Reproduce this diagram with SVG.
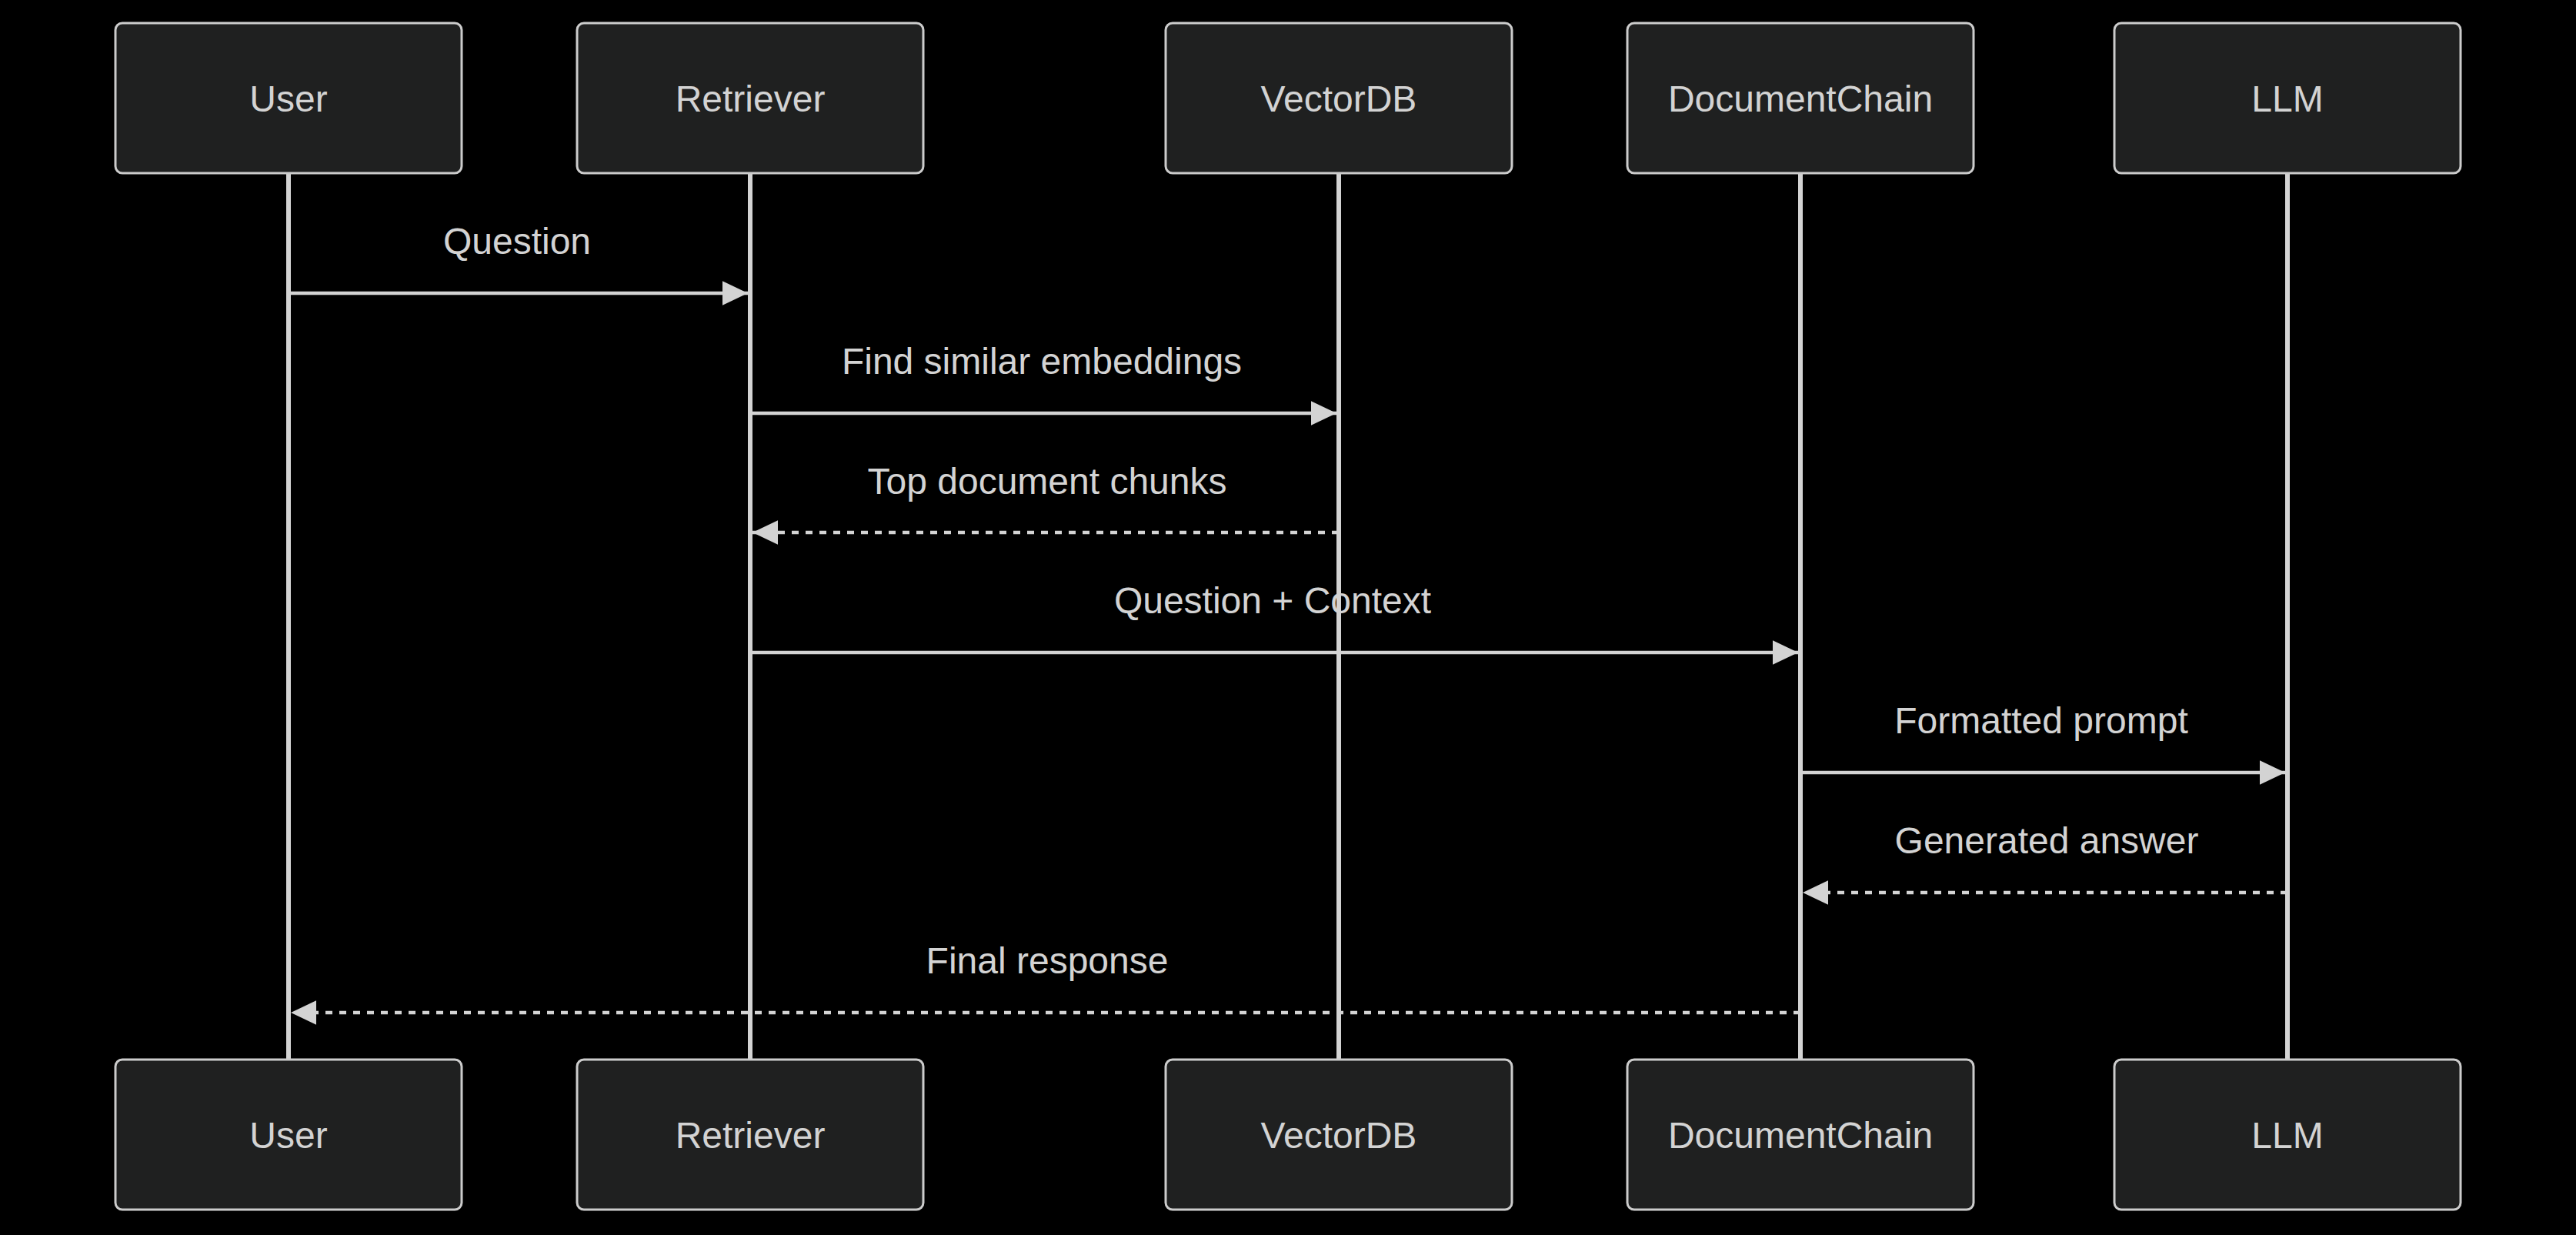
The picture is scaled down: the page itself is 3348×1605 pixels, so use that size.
<svg xmlns="http://www.w3.org/2000/svg" width="3348" height="1605" viewBox="0 0 3348 1605">
<style>
.actor{fill:#1f2020;stroke:#cccccc;stroke-width:3}
.atext{font-family:"Liberation Sans",Arial,sans-serif;font-size:48px;fill:#d3d3d3;text-anchor:middle;dominant-baseline:central}
.life{stroke:#d3d3d3;stroke-width:6}
.msg{stroke:#d3d3d3;stroke-width:4.5;fill:none}
.dot{stroke-dasharray:9,9}
.mtext{font-family:"Liberation Sans",Arial,sans-serif;font-size:48px;fill:#d3d3d3;text-anchor:middle}
</style>
<defs>
<marker id="arrow" markerUnits="userSpaceOnUse" markerWidth="34" markerHeight="32" refX="33" refY="15.75" orient="auto">
<path d="M0,0 L33,15.75 L0,31.5 z" fill="#d3d3d3"/>
</marker>
</defs>
<rect width="3348" height="1605" fill="#000000"/>
<g id="lifelines">
<line class="life" x1="375" y1="225" x2="375" y2="1377"/>
<line class="life" x1="975" y1="225" x2="975" y2="1377"/>
<line class="life" x1="1740" y1="225" x2="1740" y2="1377"/>
<line class="life" x1="2340" y1="225" x2="2340" y2="1377"/>
<line class="life" x1="2973" y1="225" x2="2973" y2="1377"/>
</g>
<g id="actor-user-top"><rect class="actor" x="150" y="30" width="450" height="195" rx="9"/><text class="atext" x="375" y="128">User</text></g>
<g id="actor-retriever-top"><rect class="actor" x="750" y="30" width="450" height="195" rx="9"/><text class="atext" x="975" y="128">Retriever</text></g>
<g id="actor-vectordb-top"><rect class="actor" x="1515" y="30" width="450" height="195" rx="9"/><text class="atext" x="1740" y="128">VectorDB</text></g>
<g id="actor-documentchain-top"><rect class="actor" x="2115" y="30" width="450" height="195" rx="9"/><text class="atext" x="2340" y="128">DocumentChain</text></g>
<g id="actor-llm-top"><rect class="actor" x="2748" y="30" width="450" height="195" rx="9"/><text class="atext" x="2973" y="128">LLM</text></g>
<g id="actor-user-bottom"><rect class="actor" x="150" y="1377" width="450" height="195" rx="9"/><text class="atext" x="375" y="1475">User</text></g>
<g id="actor-retriever-bottom"><rect class="actor" x="750" y="1377" width="450" height="195" rx="9"/><text class="atext" x="975" y="1475">Retriever</text></g>
<g id="actor-vectordb-bottom"><rect class="actor" x="1515" y="1377" width="450" height="195" rx="9"/><text class="atext" x="1740" y="1475">VectorDB</text></g>
<g id="actor-documentchain-bottom"><rect class="actor" x="2115" y="1377" width="450" height="195" rx="9"/><text class="atext" x="2340" y="1475">DocumentChain</text></g>
<g id="actor-llm-bottom"><rect class="actor" x="2748" y="1377" width="450" height="195" rx="9"/><text class="atext" x="2973" y="1475">LLM</text></g>
<g id="connectors">
<line class="msg" x1="375" y1="381" x2="972" y2="381" marker-end="url(#arrow)"/>
<line class="msg" x1="975" y1="537" x2="1737" y2="537" marker-end="url(#arrow)"/>
<line class="msg dot" x1="1740" y1="692" x2="978" y2="692" marker-end="url(#arrow)"/>
<line class="msg" x1="975" y1="848" x2="2337" y2="848" marker-end="url(#arrow)"/>
<line class="msg" x1="2340" y1="1004" x2="2970" y2="1004" marker-end="url(#arrow)"/>
<line class="msg dot" x1="2973" y1="1160" x2="2343" y2="1160" marker-end="url(#arrow)"/>
<line class="msg dot" x1="2340" y1="1316" x2="378" y2="1316" marker-end="url(#arrow)"/>
</g>
<g id="labels">
<text class="mtext" x="672" y="330">Question</text>
<text class="mtext" x="1354" y="486">Find similar embeddings</text>
<text class="mtext" x="1361" y="642">Top document chunks</text>
<text class="mtext" x="1654" y="797">Question + Context</text>
<text class="mtext" x="2653" y="953">Formatted prompt</text>
<text class="mtext" x="2660" y="1109">Generated answer</text>
<text class="mtext" x="1361" y="1265">Final response</text>
</g>
</svg>
